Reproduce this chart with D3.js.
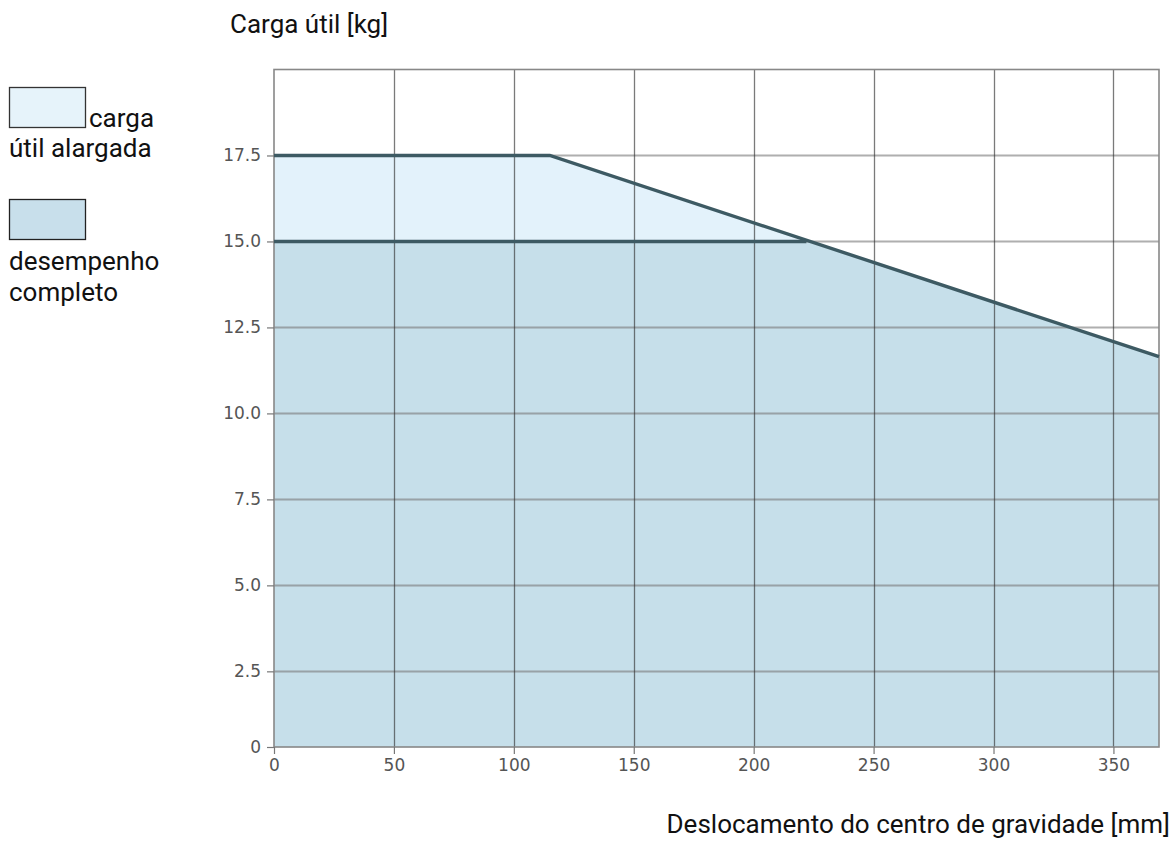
<!DOCTYPE html>
<html>
<head>
<meta charset="utf-8">
<script src="https://cdn.jsdelivr.net/npm/d3@7"></script>
<style>
  html, body { margin: 0; padding: 0; background: #fff; }
  svg { display: block; }
</style>
</head>
<body>
<svg id="chart" width="1176" height="848"></svg>
<script>
// ---- data ----
const extendedX = [0, 115, 369];
const extendedY = [17.5, 17.5, 11.65];
const fullX = [0, 222, 369];
const fullY = [15, 15, 11.65];
const xTicks = [0, 50, 100, 150, 200, 250, 300, 350];
const xTickLabels = ["0", "50", "100", "150", "200", "250", "300", "350"];
const yTicks = [0.3, 2.5, 5, 7.5, 10, 12.5, 15, 17.5];
const yTickLabels = ["0", "2.5", "5.0", "7.5", "10.0", "12.5", "15.0", "17.5"];
const xDomain = [0, 369];
const yDomain = [0.3, 20];
const legendLabels = [["carga", "útil alargada"], ["desempenho", "completo"]];
const yTitle = "Carga útil [kg]";
const xTitle = "Deslocamento do centro de gravidade [mm]";

// ---- layout ----
const svg = d3.select("#chart");
const pLeft = 274, pRight = 1159, pTop = 69.5, pBottom = 747;
const x = d3.scaleLinear().domain(xDomain).range([pLeft, pRight]);
const y = d3.scaleLinear().domain(yDomain).range([pBottom, pTop]);

const colExt = "#e3f2fb", colFull = "#c6dfea", colLine = "#3d5a63";

const area = d3.area().x(d => x(d[0])).y0(y(yDomain[0])).y1(d => y(d[1]));
const line = d3.line().x(d => x(d[0])).y(d => y(d[1]));
const extPts = extendedX.map((v, i) => [v, extendedY[i]]);
const fullPts = fullX.map((v, i) => [v, fullY[i]]);

svg.append("path").attr("d", area(extPts)).attr("fill", colExt);
svg.append("path").attr("d", area(fullPts)).attr("fill", colFull);

// grid
const g = svg.append("g");
g.selectAll(".hg").data(yTicks.slice(1)).join("line")
  .attr("x1", pLeft).attr("x2", pRight)
  .attr("y1", d => Math.round(y(d)) + 0.5).attr("y2", d => Math.round(y(d)) + 0.5)
  .attr("stroke", "#7a7a7a").attr("stroke-opacity", 0.6).attr("stroke-width", 2);
g.selectAll(".vg").data(xTicks.slice(1)).join("line")
  .attr("y1", pTop).attr("y2", pBottom)
  .attr("x1", d => Math.round(x(d)) + 0.5).attr("x2", d => Math.round(x(d)) + 0.5)
  .attr("stroke", "#333").attr("stroke-opacity", 0.65).attr("stroke-width", 1.3);

// frame
svg.append("rect").attr("x", pLeft).attr("y", pTop).attr("width", pRight - pLeft).attr("height", pBottom - pTop)
  .attr("fill", "none").attr("stroke", "#888").attr("stroke-width", 1.6);

// data lines
svg.append("path").attr("d", line(extPts)).attr("fill", "none").attr("stroke", colLine).attr("stroke-width", 3.4);
svg.append("path").attr("d", line(fullPts.slice(0, 2))).attr("fill", "none").attr("stroke", colLine).attr("stroke-width", 3.4);

// axes
const xAxis = d3.axisBottom(x).tickValues(xTicks).tickFormat((d, i) => xTickLabels[i]).tickSize(7).tickPadding(5);
const yAxis = d3.axisLeft(y).tickValues(yTicks).tickFormat((d, i) => yTickLabels[i]).tickSize(7).tickPadding(6);
const gx = svg.append("g").attr("transform", `translate(0,${pBottom})`).call(xAxis);
const gy = svg.append("g").attr("transform", `translate(${pLeft},0)`).call(yAxis);
[gx, gy].forEach(a => {
  a.select(".domain").remove();
  a.selectAll(".tick line").attr("stroke", "#777").attr("stroke-width", 1.2);
  a.selectAll(".tick text").attr("fill", "#555").style("font-family", "DejaVu Sans").style("font-size", "17px");
});

// titles
const font = "Roboto";
const fs = "26px";
svg.append("text").attr("x", 230).attr("y", 33).text(yTitle)
  .style("font-family", font).style("font-size", fs).attr("fill", "#111");
svg.append("text").attr("x", 1170).attr("y", 833).attr("text-anchor", "end").text(xTitle)
  .style("font-family", font).style("font-size", fs).attr("fill", "#111");

// legend
svg.append("rect").attr("x", 9.5).attr("y", 87.5).attr("width", 76).attr("height", 40)
  .attr("fill", "#e6f3fa").attr("stroke", "#333").attr("stroke-width", 1.3);
svg.append("text").attr("x", 89).attr("y", 127).text(legendLabels[0][0])
  .style("font-family", font).style("font-size", fs).attr("fill", "#111");
svg.append("text").attr("x", 9).attr("y", 157).text(legendLabels[0][1])
  .style("font-family", font).style("font-size", fs).attr("fill", "#111");
svg.append("rect").attr("x", 9.5).attr("y", 199.5).attr("width", 76).attr("height", 40)
  .attr("fill", "#c8dfeb").attr("stroke", "#222").attr("stroke-width", 1.3);
svg.append("text").attr("x", 9).attr("y", 270).text(legendLabels[1][0])
  .style("font-family", font).style("font-size", fs).attr("fill", "#111");
svg.append("text").attr("x", 9).attr("y", 301).text(legendLabels[1][1])
  .style("font-family", font).style("font-size", fs).attr("fill", "#111");
</script>
</body>
</html>
